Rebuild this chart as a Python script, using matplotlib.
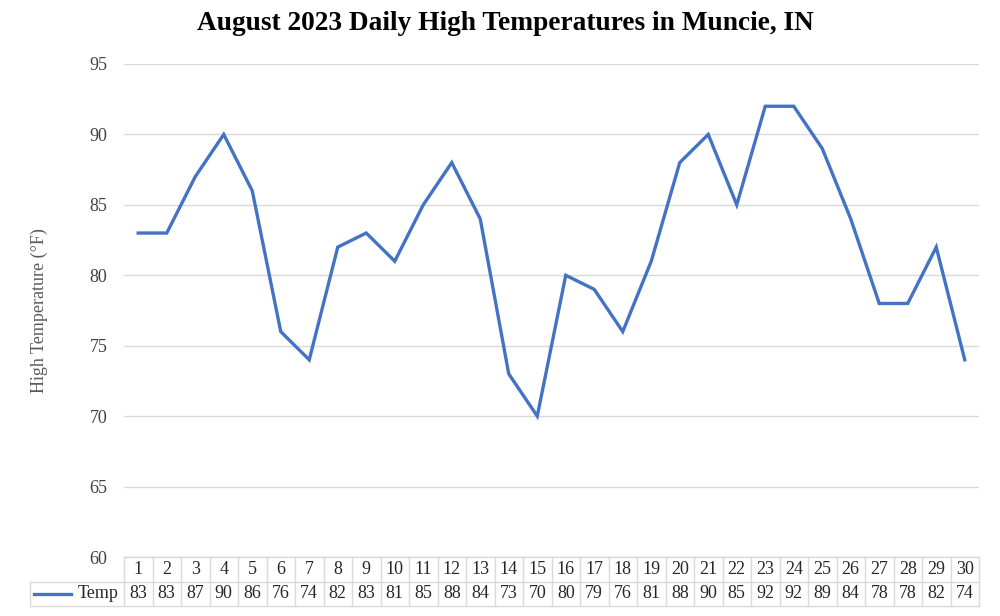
import matplotlib.pyplot as plt

days = list(range(1, 31))
temps = [83, 83, 87, 90, 86, 76, 74, 82, 83, 81, 85, 88, 84, 73, 70,
         80, 79, 76, 81, 88, 90, 85, 92, 92, 89, 84, 78, 78, 82, 74]
yticks = [60, 65, 70, 75, 80, 85, 90, 95]

plt.rcParams['font.family'] = ['Liberation Serif', 'DejaVu Serif']
blue = '#4472C4'
grid = '#d9d9d9'
fs = 13

fig = plt.figure(figsize=(10, 6.16), dpi=100)

# main plot area (pixel based placement)
left, right, top, bottom = 124, 979, 64, 557
ax = fig.add_axes([left / 1000, 1 - bottom / 616, (right - left) / 1000, (bottom - top) / 616])
ax.plot(days, temps, color=blue, linewidth=2.4, solid_joinstyle='miter')
ax.set_xlim(0.5, 30.5)
ax.set_ylim(60, 95)
ax.set_yticks(yticks)
ax.set_xticks([])
ax.tick_params(axis='y', length=0, pad=12, labelsize=fs, labelcolor='#404040')
ax.grid(axis='y', color=grid, linewidth=1)
for s in ax.spines.values():
    s.set_visible(False)
ax.set_ylabel('High Temperature (°F)', fontsize=fs, color='#595959', labelpad=30)

fig.text(0.505, 0.962, 'August 2023 Daily High Temperatures in Muncie, IN',
         ha='center', va='center', fontsize=19.7, fontweight='bold')

# data table under the chart
tab = fig.add_axes([left / 1000, 1 - 606 / 616, (right - left) / 1000, 49 / 616])
tab.set_xlim(0.5, 30.5)
tab.set_ylim(0, 2)
tab.axis('off')
lx = 0.5 - (left - 30) / ((right - left) / 30)
lw = 1
for i in range(31):
    tab.plot([i + 0.5, i + 0.5], [0, 2], color=grid, lw=lw, clip_on=False)
tab.plot([lx, 30.5], [0, 0], color=grid, lw=lw, clip_on=False)
tab.plot([lx, 30.5], [1, 1], color=grid, lw=lw, clip_on=False)
tab.plot([0.5, 30.5], [2, 2], color=grid, lw=lw, clip_on=False)
tab.plot([lx, lx], [0, 1], color=grid, lw=lw, clip_on=False)
for d, t in zip(days, temps):
    tab.text(d, 1.5, str(d), ha='center', va='center', fontsize=fs, color='#262626')
    tab.text(d, 0.5, str(t), ha='center', va='center', fontsize=fs, color='#262626')
tab.plot([lx + 0.15, lx + 1.45], [0.5, 0.5], color=blue, lw=2.4, clip_on=False)
tab.text(0.5 - 0.2, 0.5, 'Temp', ha='right', va='center', fontsize=fs, color='#262626')

fig.savefig('out.png', dpi=100)
